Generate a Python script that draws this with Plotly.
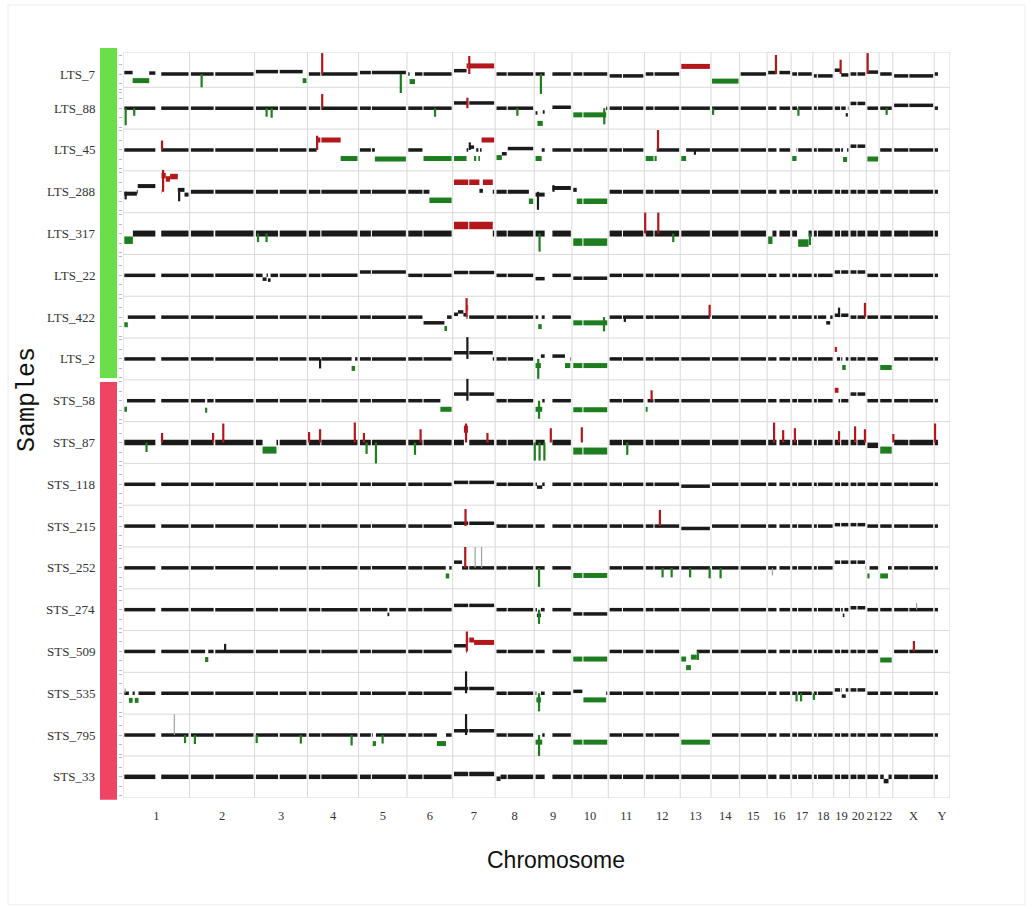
import plotly.graph_objects as go

# ---------------------------------------------------------------- genome layout
CHROMS = ['1', '2', '3', '4', '5', '6', '7', '8', '9', '10', '11', '12',
          '13', '14', '15', '16', '17', '18', '19', '20', '21', '22', 'X', 'Y']
CHROM_LEN_MB = [249, 243, 198, 191, 181, 171, 159, 146, 141, 136, 135, 134,
                115, 107, 103, 90, 81, 78, 59, 63, 48, 51, 155, 59]
# probe-covered stretches of each chromosome (centromere / heterochromatin gaps left out)
CHROM_ARMS_MB = {
    '1': [(5, 121), (143, 245)], '2': [(5, 90), (96, 239)], '3': [(5, 88), (94, 194)],
    '4': [(5, 48), (52, 187)], '5': [(5, 46), (50, 177)], '6': [(5, 58), (62, 167)],
    '7': [(5, 58), (62, 155)], '8': [(5, 43), (47, 142)], '9': [(5, 39), (68, 137)],
    '10': [(5, 39), (43, 132)], '11': [(5, 51), (55, 131)], '12': [(5, 34), (38, 130)],
    '13': [(4, 111)], '14': [(4, 103)], '15': [(4, 99)], '16': [(4, 35), (46, 86)],
    '17': [(4, 22), (26, 77)], '18': [(4, 15), (19, 74)], '19': [(4, 24), (28, 55)],
    '20': [(4, 26), (30, 59)], '21': [(4, 44)], '22': [(4, 47)],
    'X': [(5, 58), (62, 151)], 'Y': [(2, 14)],
}

# ---------------------------------------------------------------- samples
SAMPLES = ['LTS_7', 'LTS_88', 'LTS_45', 'LTS_288', 'LTS_317', 'LTS_22', 'LTS_422', 'LTS_2',
           'STS_58', 'STS_87', 'STS_118', 'STS_215', 'STS_252', 'STS_274', 'STS_509',
           'STS_535', 'STS_795', 'STS_33']
GROUP = ['LTS'] * 8 + ['STS'] * 10

# segments: (chromosome, start Mb, end Mb, log2 ratio, call)  call: N neutral, G gain, L loss
# spikes:   (chromosome, position Mb, log2 ratio, call)        call: U unclassified outlier
SEG_LTS_7 = [('1', 5, 36, 0.15, 'N'), ('1', 36, 98, -0.7, 'L'), ('1', 98, 121, 0.1, 'N'),
             ('3', 0, 180, 0.25, 'N'), ('3', 180, 196, -0.7, 'L'), ('5', 0, 181, 0.15, 'N'),
             ('6', 10, 30, -0.8, 'L'), ('7', 0, 52, 0.35, 'N'), ('7', 52, 159, 0.85, 'G'),
             ('11', 0, 135, -0.2, 'N'), ('13', 0, 115, 0.8, 'G'), ('14', 0, 107, -0.75, 'L'),
             ('16', 0, 90, 0.15, 'N'), ('18', 0, 78, -0.2, 'N'), ('19', 0, 24, 0.4, 'N'),
             ('19', 28, 59, -0.1, 'N'), ('21', 0, 48, 0.2, 'N'), ('X', 0, 155, -0.2, 'N')]
SPK_LTS_7 = [('2', 45, -1.4, 'L'), ('4', 55, 2.2, 'G'), ('5', 158, -2.0, 'L'), ('7', 62, 1.9, 'G'),
             ('9', 25, -2.1, 'L'), ('16', 33, 2.0, 'G'), ('19', 26, 1.5, 'G'), ('21', 5, 2.2, 'G')]

SEG_LTS_88 = [('7', 0, 159, 0.55, 'N'), ('9', 0, 12, -0.5, 'N'), ('9', 12, 32, -1.6, 'L'),
              ('9', 32, 39, -0.4, 'N'), ('9', 68, 141, 0.1, 'N'), ('10', 0, 128, -0.7, 'L'),
              ('19', 45, 53, -0.7, 'N'), ('20', 0, 63, 0.5, 'N'), ('X', 0, 155, 0.3, 'N')]
SPK_LTS_88 = [('1', 10, -1.8, 'L'), ('1', 42, -0.8, 'L'), ('3', 45, -0.9, 'L'), ('3', 64, -1.0, 'L'),
              ('4', 55, 1.5, 'G'), ('6', 105, -0.9, 'L'), ('7', 55, 1.1, 'G'), ('8', 83, -0.8, 'L'),
              ('10', 121, -1.7, 'L'), ('14', 8, -0.7, 'L'), ('17', 27, -0.8, 'L'), ('22', 28, -0.7, 'L')]

SEG_LTS_45 = [('4', 34, 124, 1.05, 'G'), ('4', 124, 188, -0.9, 'L'), ('5', 61, 181, -0.95, 'L'),
              ('6', 62, 171, -0.9, 'L'), ('7', 0, 52, -0.9, 'L'), ('7', 62, 80, 0.3, 'N'),
              ('7', 80, 88, -0.9, 'L'), ('7', 96, 102, -0.9, 'L'), ('7', 108, 159, 1.05, 'G'),
              ('8', 0, 25, -0.8, 'L'), ('8', 25, 43, -0.4, 'N'), ('8', 47, 146, 0.15, 'N'),
              ('9', 0, 28, -0.9, 'L'), ('12', 0, 46, -0.9, 'L'), ('13', 0, 22, -0.9, 'L'),
              ('17', 0, 20, -0.9, 'L'), ('19', 35, 50, -1.0, 'L'), ('20', 0, 63, 0.4, 'N'),
              ('21', 0, 48, -0.95, 'L')]
SPK_LTS_45 = [('1', 146, 1.0, 'G'), ('4', 36, 1.5, 'G'), ('7', 64, 0.8, 'N'), ('12', 51, 2.1, 'G'),
              ('13', 55, -0.5, 'N')]

SEG_LTS_288 = [('1', 0, 52, -0.2, 'N'), ('1', 55, 121, 0.6, 'N'), ('1', 144, 160, 1.7, 'G'),
               ('1', 160, 176, 1.35, 'G'), ('1', 176, 205, 1.6, 'G'), ('1', 205, 230, 0.2, 'N'),
               ('1', 230, 249, -0.3, 'N'), ('6', 84, 171, -0.9, 'L'), ('7', 0, 100, 1.0, 'G'),
               ('7', 100, 113, 0.1, 'N'), ('7', 113, 150, 1.0, 'G'), ('8', 126, 146, -1.0, 'L'),
               ('9', 0, 39, -0.3, 'N'), ('9', 68, 141, 0.4, 'N'), ('10', 0, 18, 0.2, 'N'),
               ('10', 18, 136, -1.0, 'L')]
SPK_LTS_288 = [('1', 10, -0.8, 'N'), ('1', 150, 2.3, 'G'), ('1', 210, -1.0, 'N'),
               ('9', 14, -1.9, 'N'), ('9', 72, 0.7, 'N')]

SEG_LTS_317 = [('1', 0, 37, -0.7, 'L'), ('7', 0, 150, 0.85, 'G'), ('10', 0, 136, -0.9, 'L'),
               ('16', 2, 20, -0.7, 'L'), ('17', 25, 65, -1.0, 'L')]
SPK_LTS_317 = [('3', 13, -0.9, 'L'), ('3', 45, -0.9, 'L'), ('9', 20, -1.9, 'L'), ('12', 3, 2.2, 'G'),
               ('12', 52, 2.2, 'G'), ('12', 108, -0.9, 'L'), ('17', 70, -1.2, 'L')]

SEG_LTS_22 = [('3', 30, 45, -0.4, 'N'), ('3', 50, 60, -0.5, 'N'), ('5', 0, 181, 0.35, 'N'),
              ('7', 0, 159, 0.3, 'N'), ('9', 0, 39, -0.35, 'N'), ('10', 0, 136, -0.3, 'N'),
              ('19', 0, 59, 0.35, 'N'), ('20', 0, 63, 0.35, 'N')]
SPK_LTS_22 = []

SEG_LTS_422 = [('1', 0, 18, -0.8, 'L'), ('6', 60, 140, -0.6, 'N'), ('6', 140, 150, -1.2, 'L'),
               ('7', 0, 20, 0.3, 'N'), ('7', 20, 40, 0.55, 'N'), ('7', 40, 52, 0.25, 'N'),
               ('7', 55, 62, 1.0, 'G'), ('9', 15, 28, -1.0, 'L'), ('10', 0, 135, -0.6, 'L'),
               ('18', 50, 65, -0.6, 'N'), ('19', 0, 59, 0.2, 'N')]
SPK_LTS_422 = [('7', 52, 2.0, 'G'), ('10', 120, -1.5, 'L'), ('11', 62, -0.5, 'N'),
               ('13', 110, 1.3, 'G'), ('19', 20, 1.0, 'N'), ('20', 58, 1.5, 'G')]

SEG_LTS_2 = [('4', 165, 178, -1.0, 'L'), ('7', 0, 150, 0.65, 'N'), ('9', 0, 25, -0.7, 'L'),
             ('9', 25, 39, 0.3, 'N'), ('9', 68, 115, 0.3, 'N'), ('9', 115, 135, -0.7, 'L'),
             ('10', 0, 136, -0.7, 'L'), ('19', 0, 12, 1.0, 'G'), ('19', 32, 45, -0.9, 'L'),
             ('22', 0, 51, -0.9, 'L')]
SPK_LTS_2 = [('4', 47, -1.0, 'N'), ('7', 55, 2.3, 'N'), ('9', 15, -2.1, 'L')]

SEG_STS_58 = [('1', 0, 15, -0.9, 'L'), ('2', 58, 66, -1.0, 'L'), ('6', 125, 168, -0.9, 'L'),
              ('7', 0, 159, 0.7, 'N'), ('9', 3, 30, -0.9, 'L'), ('10', 0, 136, -0.95, 'L'),
              ('12', 5, 12, -0.9, 'L'), ('19', 0, 18, 1.1, 'G'), ('20', 0, 63, 0.7, 'N')]
SPK_STS_58 = [('7', 55, 2.3, 'N'), ('9', 18, -1.9, 'L'), ('12', 27, 1.1, 'G')]

SEG_STS_87 = [('3', 30, 82, -0.8, 'L'), ('7', 42, 57, 1.4, 'G'), ('10', 0, 136, -0.9, 'L'),
              ('21', 0, 48, -0.3, 'N'), ('22', 0, 51, -0.8, 'L')]
SPK_STS_87 = [('1', 88, -1.0, 'L'), ('1', 146, 1.0, 'G'), ('2', 88, 1.0, 'G'), ('2', 126, 2.0, 'G'),
              ('4', 6, 1.1, 'G'), ('4', 47, 1.4, 'G'), ('4', 177, 2.1, 'G'), ('5', 20, 1.0, 'G'),
              ('5', 30, -1.2, 'L'), ('5', 65, -2.2, 'L'), ('6', 30, -1.3, 'L'), ('6', 51, 1.4, 'G'),
              ('7', 50, 2.0, 'G'), ('7', 130, 1.0, 'G'), ('9', 2, -1.9, 'L'), ('9', 20, -1.9, 'L'),
              ('9', 38, -1.9, 'L'), ('9', 62, 1.5, 'G'), ('10', 37, 1.6, 'G'), ('11', 71, -1.3, 'L'),
              ('16', 26, 2.1, 'G'), ('16', 60, 1.3, 'G'), ('17', 14, 1.5, 'G'), ('19', 20, 1.2, 'G'),
              ('20', 21, 1.7, 'G'), ('20', 58, 1.4, 'G'), ('X', 2, 0.9, 'G'), ('Y', 3, 2.0, 'G')]

SEG_STS_118 = [('7', 0, 159, 0.2, 'N'), ('9', 10, 30, -0.3, 'N'), ('13', 0, 115, -0.2, 'N')]
SPK_STS_118 = []

SEG_STS_215 = [('7', 0, 159, 0.3, 'N'), ('13', 0, 115, -0.25, 'N'), ('19', 0, 59, 0.15, 'N'),
               ('20', 0, 63, 0.15, 'N')]
SPK_STS_215 = [('7', 48, 1.8, 'G'), ('12', 58, 1.7, 'G')]

SEG_STS_252 = [('6', 145, 158, -0.85, 'L'), ('7', 0, 35, 0.6, 'N'), ('10', 0, 136, -0.8, 'L'),
               ('19', 0, 59, 0.6, 'N'), ('20', 0, 58, 0.6, 'N'), ('21', 0, 12, -0.85, 'L'),
               ('22', 0, 33, -0.85, 'L')]
SPK_STS_252 = [('7', 47, 2.2, 'G'), ('7', 84, 2.2, 'U'), ('7', 108, 2.2, 'U'), ('9', 18, -2.0, 'L'),
               ('12', 68, -1.0, 'L'), ('12', 102, -1.0, 'L'), ('13', 37, -1.0, 'L'),
               ('13', 110, -1.1, 'L'), ('14', 36, -1.1, 'L'), ('16', 20, -0.8, 'U')]

SEG_STS_274 = [('5', 108, 115, -0.5, 'N'), ('7', 0, 159, 0.45, 'N'), ('9', 10, 25, -0.6, 'N'),
               ('10', 0, 136, -0.45, 'N'), ('19', 34, 40, -0.6, 'N'), ('20', 0, 63, 0.2, 'N')]
SPK_STS_274 = [('9', 18, -1.5, 'L'), ('X', 89, 0.7, 'U')]

SEG_STS_509 = [('2', 58, 70, -0.85, 'L'), ('7', 0, 50, 0.6, 'N'), ('7', 52, 80, 1.2, 'G'),
               ('7', 80, 155, 0.95, 'G'), ('10', 0, 136, -0.8, 'L'), ('13', 0, 22, -0.8, 'L'),
               ('13', 22, 40, -1.7, 'L'), ('13', 40, 62, -0.6, 'L'), ('22', 0, 51, -0.9, 'L')]
SPK_STS_509 = [('2', 133, 0.8, 'N'), ('7', 53, 2.1, 'G'), ('13', 66, -0.9, 'L'), ('X', 79, 1.1, 'G')]

SEG_STS_535 = [('1', 22, 36, -0.75, 'L'), ('1', 44, 58, -0.75, 'L'), ('7', 0, 159, 0.5, 'N'),
               ('9', 8, 25, -0.7, 'L'), ('10', 0, 40, 0.2, 'N'), ('10', 40, 128, -0.7, 'L'),
               ('19', 0, 30, 0.35, 'N'), ('19', 30, 45, -0.3, 'N'), ('19', 45, 59, 0.35, 'N'),
               ('20', 0, 63, 0.35, 'N')]
SPK_STS_535 = [('1', 8, 0.5, 'U'), ('7', 50, 2.3, 'N'), ('9', 18, -1.9, 'L'), ('17', 20, -0.85, 'L'),
               ('17', 37, -0.85, 'L'), ('18', 4, -0.7, 'L')]

SEG_STS_795 = [('5', 53, 65, -0.9, 'L'), ('6', 112, 146, -0.9, 'L'), ('7', 0, 159, 0.45, 'N'),
               ('9', 0, 30, -0.75, 'L'), ('10', 0, 136, -0.75, 'L'), ('13', 0, 115, -0.75, 'L')]
SPK_STS_795 = [('1', 192, 2.2, 'U'), ('1', 232, -0.85, 'L'), ('2', 20, -0.95, 'L'),
               ('3', 8, -0.85, 'L'), ('3', 173, -0.9, 'L'), ('4', 165, -1.1, 'L'),
               ('5', 90, -0.9, 'L'), ('7', 50, 2.2, 'N'), ('9', 18, -2.2, 'L')]

SEG_STS_33 = [('7', 0, 159, 0.3, 'N'), ('8', 0, 20, -0.2, 'N'), ('22', 17, 35, -0.45, 'N')]
SPK_STS_33 = []

SEGMENTS = {
    'LTS_7': SEG_LTS_7, 'LTS_88': SEG_LTS_88, 'LTS_45': SEG_LTS_45, 'LTS_288': SEG_LTS_288,
    'LTS_317': SEG_LTS_317, 'LTS_22': SEG_LTS_22, 'LTS_422': SEG_LTS_422, 'LTS_2': SEG_LTS_2,
    'STS_58': SEG_STS_58, 'STS_87': SEG_STS_87, 'STS_118': SEG_STS_118, 'STS_215': SEG_STS_215,
    'STS_252': SEG_STS_252, 'STS_274': SEG_STS_274, 'STS_509': SEG_STS_509,
    'STS_535': SEG_STS_535, 'STS_795': SEG_STS_795, 'STS_33': SEG_STS_33,
}
SPIKES = {
    'LTS_7': SPK_LTS_7, 'LTS_88': SPK_LTS_88, 'LTS_45': SPK_LTS_45, 'LTS_288': SPK_LTS_288,
    'LTS_317': SPK_LTS_317, 'LTS_22': SPK_LTS_22, 'LTS_422': SPK_LTS_422, 'LTS_2': SPK_LTS_2,
    'STS_58': SPK_STS_58, 'STS_87': SPK_STS_87, 'STS_118': SPK_STS_118, 'STS_215': SPK_STS_215,
    'STS_252': SPK_STS_252, 'STS_274': SPK_STS_274, 'STS_509': SPK_STS_509,
    'STS_535': SPK_STS_535, 'STS_795': SPK_STS_795, 'STS_33': SPK_STS_33,
}

# ---------------------------------------------------------------- styling
CALL_COLOR = {'N': '#1a1a1a', 'G': '#b3161b', 'L': '#1e7d1e', 'U': '#a0a0a0'}
GROUP_COLOR = {'LTS': '#69e049', 'STS': '#ee4565'}
GRID = '#dadada'
# thickness (px) of the scatter band of each profile
BAND_PX = {'LTS_317': 6.0, 'STS_87': 5.5, 'STS_33': 4.5, 'LTS_288': 4.0}
DEFAULT_BAND = 3.5
ROW_SPAN = 4.4                      # log2 units per sample row
ROW_SHIFT = {'LTS_7': -0.8}         # first profile sits lower in its row

FIG_W, FIG_H = 1032, 909
PLOT_L, PLOT_R, PLOT_T, PLOT_B = 123, 950, 52, 798.2
Y_TOP = 1.516
Y_BOTTOM = -(len(SAMPLES) - 1) * ROW_SPAN - 2.23

offsets = {}
acc = 0
for c, ln in zip(CHROMS, CHROM_LEN_MB):
    offsets[c] = acc
    acc += ln
GENOME = acc


def px_x(px):
    return (px - PLOT_L) / (PLOT_R - PLOT_L)


def px_y(py):
    return (PLOT_B - py) / (PLOT_B - PLOT_T)


def clip_to_arms(chrom, s, e):
    out = []
    for a, b in CHROM_ARMS_MB[chrom]:
        lo, hi = max(a, s), min(b, e)
        if hi > lo:
            out.append((lo, hi))
    return out


def cut(intervals, s, e):
    res = []
    for a, b in intervals:
        if e <= a or s >= b:
            res.append((a, b))
            continue
        if s > a:
            res.append((a, s))
        if e < b:
            res.append((e, b))
    return res


fig = go.Figure()

# grid: chromosome separators and row separators
gx, gy = [], []
bounds = [offsets[c] for c in CHROMS] + [GENOME]
for b in bounds:
    gx += [b, b, None]
    gy += [Y_BOTTOM, Y_TOP, None]
row_lines = [Y_TOP, Y_BOTTOM] + [-(i + 0.5) * ROW_SPAN for i in range(len(SAMPLES) - 1)]
for y in row_lines:
    gx += [0, GENOME, None]
    gy += [y, y, None]
fig.add_trace(go.Scatter(x=gx, y=gy, mode='lines', line=dict(color=GRID, width=1),
                         hoverinfo='skip', showlegend=False))

ytick_vals = []
for i, name in enumerate(SAMPLES):
    base = -i * ROW_SPAN + ROW_SHIFT.get(name, 0.0)
    band = BAND_PX.get(name, DEFAULT_BAND)
    call_w = max(band + 1.5, 5.0)
    for k in (-2, -1, 0, 1, 2):
        if Y_BOTTOM < base + k < Y_TOP:
            ytick_vals.append(base + k)

    # neutral backbone minus the called segments
    backbone = {c: list(CHROM_ARMS_MB[c]) for c in CHROMS}
    for c, s, e, v, call in SEGMENTS[name]:
        backbone[c] = cut(backbone[c], s, e)

    lines = {}

    def add(key, xs, ys):
        bx, by = lines.setdefault(key, ([], []))
        bx.extend(xs + [None])
        by.extend(ys + [None])

    for c in CHROMS:
        for a, b in backbone[c]:
            add(('N', band), [offsets[c] + a, offsets[c] + b], [base, base])
    for c, s, e, v, call in SEGMENTS[name]:
        w = band if call == 'N' else call_w
        for a, b in clip_to_arms(c, s, e):
            add((call, w), [offsets[c] + a, offsets[c] + b], [base + v, base + v])
    for c, p, v, call in SPIKES[name]:
        w = 1.2 if call == 'U' else 2.2
        add((call, w, 'spike'), [offsets[c] + p, offsets[c] + p], [base, base + v])

    order = sorted(lines.keys(), key=lambda k: (len(k), k[0] != 'N'))
    for key in order:
        xs, ys = lines[key]
        fig.add_trace(go.Scatter(x=xs, y=ys, mode='lines',
                                 line=dict(color=CALL_COLOR[key[0]], width=key[1]),
                                 hoverinfo='skip', showlegend=False))

# group colour bars and a light outer frame
shapes = [
    dict(type='rect', xref='paper', yref='paper', x0=px_x(100), x1=px_x(117),
         y0=px_y(378), y1=px_y(48), fillcolor=GROUP_COLOR['LTS'], line=dict(width=0)),
    dict(type='rect', xref='paper', yref='paper', x0=px_x(100), x1=px_x(117),
         y0=px_y(800), y1=px_y(382), fillcolor=GROUP_COLOR['STS'], line=dict(width=0)),
    dict(type='rect', xref='paper', yref='paper', x0=px_x(8), x1=px_x(1025),
         y0=px_y(905), y1=px_y(5), fillcolor='rgba(0,0,0,0)',
         line=dict(color='#ececec', width=1), layer='below'),
]

annotations = []
for i, name in enumerate(SAMPLES):
    base = -i * ROW_SPAN + ROW_SHIFT.get(name, 0.0)
    annotations.append(dict(text=name, xref='paper', yref='y', x=px_x(97), y=base,
                            xanchor='right', yanchor='middle', showarrow=False,
                            font=dict(family='Liberation Serif', size=13, color='#333333')))
annotations.append(dict(text='Samples', xref='paper', yref='paper', x=px_x(28), y=px_y(400),
                        textangle=-90, xanchor='center', yanchor='middle', showarrow=False,
                        font=dict(family='Liberation Mono', size=25, color='#111111')))
annotations.append(dict(text='Chromosome', xref='paper', yref='paper', x=px_x(556), y=px_y(860),
                        xanchor='center', yanchor='middle', showarrow=False,
                        font=dict(family='Liberation Sans', size=23, color='#111111')))

mids = [offsets[c] + ln / 2 for c, ln in zip(CHROMS, CHROM_LEN_MB)]

fig.update_layout(
    template='none',
    width=FIG_W, height=FIG_H,
    margin=dict(l=PLOT_L, r=FIG_W - PLOT_R, t=PLOT_T, b=FIG_H - PLOT_B, pad=0),
    paper_bgcolor='white', plot_bgcolor='white',
    shapes=shapes, annotations=annotations,
    xaxis=dict(range=[0, GENOME], tickvals=mids, ticktext=CHROMS, tickangle=0,
               ticks='outside', ticklen=6, tickcolor='rgba(0,0,0,0)', showgrid=False,
               zeroline=False, showline=False, automargin=False,
               tickfont=dict(family='Liberation Serif', size=12.5, color='#333333')),
    yaxis=dict(range=[Y_BOTTOM, Y_TOP], tickvals=ytick_vals, ticktext=[''] * len(ytick_vals),
               ticks='outside', ticklen=3, tickwidth=1, tickcolor='#b8b8b8', showgrid=False,
               zeroline=False, showline=False, automargin=False),
    showlegend=False,
)

fig.write_html('out.html')
